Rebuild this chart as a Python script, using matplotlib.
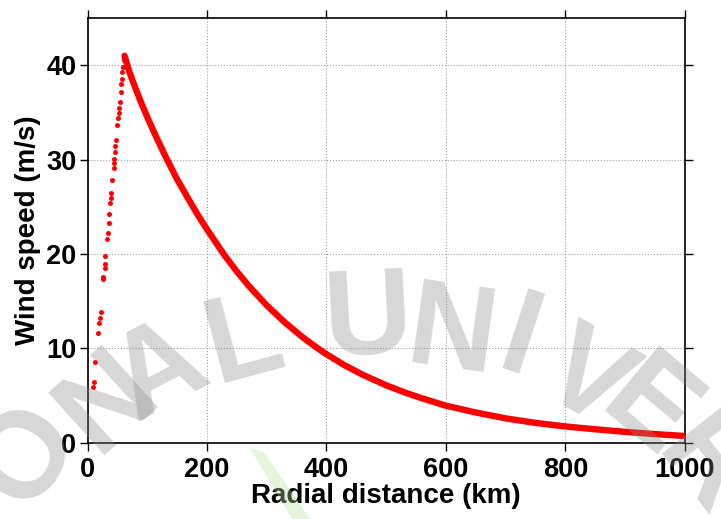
import matplotlib
matplotlib.use("Agg")
import matplotlib.pyplot as plt
from matplotlib.patches import Polygon

# inner core: sparse samples rising to the radius of maximum wind
r_core = [9.7, 10.9, 13.1, 18.1, 19.7, 20.9, 22.1, 25.4, 26.4, 28.8, 28.8, 29.8,
          33.1, 33.8, 35.5, 36.5, 38.2, 39.3, 39.8, 41.5, 43.8, 44.8, 44.8, 46.0,
          46.5, 47.2, 49.9, 51.0, 52.2, 53.2, 53.9, 55.6, 56.6, 57.2, 58.2, 59.4,
          60.6, 61.6]
v_core = [5.87, 6.40, 8.58, 11.65, 12.65, 13.24, 13.88, 17.31, 17.52, 18.54, 18.93,
          19.81, 21.58, 22.25, 23.31, 24.19, 25.36, 25.92, 26.45, 27.83, 29.13,
          29.66, 30.02, 30.76, 31.43, 32.07, 33.69, 34.36, 34.93, 35.49, 36.09,
          37.15, 38.03, 38.53, 39.27, 39.83, 40.54, 40.96]

# outer region: dense decay from the peak out to 1000 km
r_outer = [62, 70, 80, 90, 100, 115, 130, 150, 170, 185, 200, 230, 250, 270, 300,
           330, 360, 384, 400, 430, 460, 500, 530, 560, 600, 650, 700, 750, 800,
           850, 900, 950, 1000]
v_outer = [41.0, 39.3, 37.6, 36.0, 34.5, 32.4, 30.4, 27.9, 25.7, 24.1, 22.6, 19.8,
           18.14, 16.61, 14.55, 12.76, 11.18, 10.06, 9.37, 8.22, 7.22, 6.08, 5.35,
           4.7, 3.92, 3.2, 2.58, 2.1, 1.72, 1.42, 1.15, 0.91, 0.71]

x_ticks = [0, 200, 400, 600, 800, 1000]
y_ticks = [0, 10, 20, 30, 40]

plt.rcParams['font.family'] = ['Liberation Sans', 'DejaVu Sans']

fig = plt.figure(figsize=(7.21, 5.19), dpi=100)
ax = fig.add_axes([0.1214, 0.147, 0.8286, 0.8183])

ax.plot(r_outer, v_outer, '-', color='#ff0000', lw=4.6, solid_capstyle='round',
        solid_joinstyle='round', zorder=3)
ax.plot(r_core, v_core, 'o', color='#ff0000', ms=3.6, mec='none', zorder=3)

ax.set_xlim(0, 1000)
ax.set_ylim(0, 45)
ax.set_xticks(x_ticks)
ax.set_yticks(y_ticks)
ax.grid(True, linestyle=':', color='#a0a0a0', linewidth=0.8)
ax.set_axisbelow(True)

ax.tick_params(direction='out', length=6, width=1.0, labelsize=19.5,
               top=True, right=True, labeltop=False, labelright=False)
ax.tick_params(axis='x', pad=4)
ax.tick_params(axis='y', pad=2)
for lab in ax.get_xticklabels() + ax.get_yticklabels():
    lab.set_fontweight('bold')
for sp in ax.spines.values():
    sp.set_linewidth(1.2)

ax.set_xlabel('Radial distance (km)', fontsize=20, fontweight='bold', labelpad=0)
ax.set_ylabel('Wind speed (m/s)', fontsize=20, fontweight='bold', labelpad=4)

# faint watermark letters laid out on an arc
wm_letters = ['O', 'N', 'A', 'L', 'U', 'N', 'I', 'V', 'E', 'R']
wm_x = [28, 108, 160, 245, 368, 452, 520, 585, 648, 705]
wm_y = [455, 402, 372, 342, 322, 336, 343, 382, 412, 468]
wm_rot = [58, 42, 28, 15, 3, -8, -18, -30, -40, -52]
for ch, px, py, rot in zip(wm_letters, wm_x, wm_y, wm_rot):
    fig.text(px / 721, 1 - py / 519, ch, fontsize=88, fontweight='bold',
             color='#8a8a8a', alpha=0.34, rotation=rot, ha='center', va='center',
             zorder=10)

leaf = Polygon([[250 / 721, 1 - 448 / 519], [264 / 721, 1 - 452 / 519],
                [310 / 721, 1 - 519 / 519], [292 / 721, 1 - 519 / 519]],
               closed=True, transform=fig.transFigure, facecolor='#b8e0a0',
               alpha=0.35, edgecolor='none', zorder=0)
fig.patches.append(leaf)

fig.savefig('out.png', dpi=100)
